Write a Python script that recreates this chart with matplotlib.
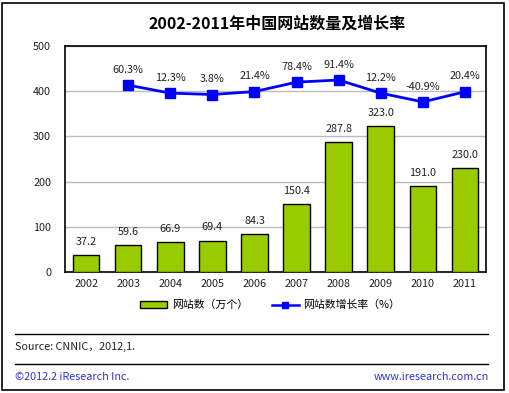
import matplotlib.pyplot as plt
from matplotlib.patches import Rectangle
from matplotlib.lines import Line2D

plt.rcParams['font.family'] = ['Noto Sans CJK SC', 'DejaVu Sans']

years = ['2002', '2003', '2004', '2005', '2006', '2007', '2008', '2009', '2010', '2011']
sites = [37.2, 59.6, 66.9, 69.4, 84.3, 150.4, 287.8, 323.0, 191.0, 230.0]
growth_years = years[1:]
growth = [60.3, 12.3, 3.8, 21.4, 78.4, 91.4, 12.2, -40.9, 20.4]

W, H = 510, 393
fig = plt.figure(figsize=(W / 100, H / 100), dpi=100)

# outer frame
fig.patches.append(Rectangle((2.5 / W, 3 / H), 502 / W, 387 / H, transform=fig.transFigure,
                             fill=False, edgecolor='black', linewidth=1.2))

ax = fig.add_axes([65 / W, 1 - 272 / H, 421 / W, 226 / H])
x = range(len(years))
ax.bar(x, sites, width=0.63, color='#99cc00', edgecolor='black', linewidth=1, zorder=3)
for xi, v in zip(x, sites):
    ax.text(xi, v + 18, f'{v:.1f}', ha='center', va='bottom', fontsize=7.8, color='#222222')

ax.set_ylim(0, 500)
ax.set_xlim(-0.5, len(years) - 0.5)
ax.set_yticks([0, 100, 200, 300, 400, 500])
ax.set_xticks(list(x))
ax.set_xticklabels(years)
ax.tick_params(axis='both', length=0, labelsize=7.8, colors='#222222')
ax.tick_params(axis='y', pad=10)
ax.tick_params(axis='x', pad=5)
ax.yaxis.grid(True, color='#bbbbbb', linewidth=1, zorder=0)
for s in ax.spines.values():
    s.set_color('black')
    s.set_linewidth(1.2)

ax2 = ax.twinx()
gx = [years.index(y) for y in growth_years]
ax2.plot(gx, growth, color='#0000ff', linewidth=2, marker='s', markersize=6.5, zorder=4)
for xi, g in zip(gx, growth):
    ax2.text(xi, g + 62, f'{g:.1f}%', ha='center', va='bottom', fontsize=7.8, color='#222222')
ax2.set_ylim(-1067, 296.5)
ax2.set_yticks([])
for s in ax2.spines.values():
    s.set_visible(False)

fig.text(277 / W, 1 - 24 / H, '2002-2011年中国网站数量及增长率', ha='center', va='center',
         fontsize=11.5, fontweight='bold')

handles = [Rectangle((0, 0), 1, 1, facecolor='#99cc00', edgecolor='black', linewidth=1),
           Line2D([], [], color='#0000ff', linewidth=1.8, marker='s', markersize=4)]
fig.legend(handles, ['网站数（万个）', '网站数增长率（%）'], loc='center',
           bbox_to_anchor=(270 / W, 1 - 305 / H), ncol=2, frameon=False, fontsize=7.8,
           handlelength=2.5, handletextpad=0.4, columnspacing=2.2, handleheight=0.6)

for yy in (334, 364):
    fig.add_artist(Line2D([15 / W, 488 / W], [1 - yy / H, 1 - yy / H], transform=fig.transFigure,
                          color='black', linewidth=1))

fig.text(15 / W, 1 - 347 / H, 'Source: CNNIC，2012,1.', ha='left', va='center', fontsize=7.8,
         color='#222222')
fig.text(15 / W, 1 - 377 / H, '©2012.2 iResearch Inc.', ha='left', va='center', fontsize=7.8,
         color='#3333cc')
fig.text(489 / W, 1 - 377 / H, 'www.iresearch.com.cn', ha='right', va='center', fontsize=7.8,
         color='#3333cc')

fig.savefig('out.png', dpi=100)
